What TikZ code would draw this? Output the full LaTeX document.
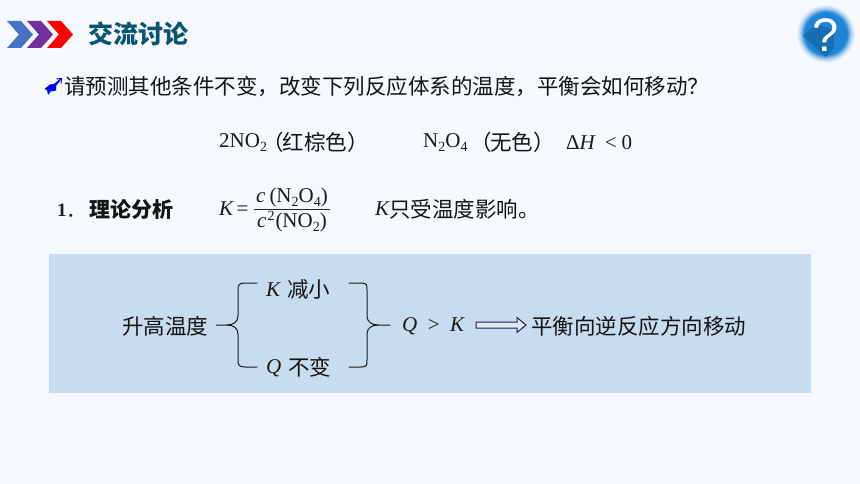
\documentclass[tikz,border=0pt]{standalone}
\usepackage{fontspec}
\setmainfont{Liberation Serif}
\setsansfont{Liberation Sans}
\newfontfamily\cjk{Noto Sans CJK SC}
\newfontfamily\cjkp[RawFeature=+palt]{Noto Sans CJK SC}
\usetikzlibrary{calc}
\definecolor{bgc}{HTML}{F5F9FD}
\definecolor{boxc}{HTML}{C8DCF0}
\definecolor{titlec}{HTML}{0B5470}
\definecolor{iconc}{HTML}{1E84D6}
\definecolor{chevb}{HTML}{4472C4}
\definecolor{chevp}{HTML}{7030A0}
\tikzset{
  body/.style={inner sep=0pt,text=black!92,font=\fontsize{21.5}{25}\selectfont\cjk},
  paren/.style={inner sep=0pt,text=black!92,font=\fontsize{21.5}{25}\selectfont\cjkp},
  latin/.style={inner sep=0pt,text=black!90,font=\fontsize{21}{25}\selectfont},
  brace/.style={draw=black!90,line width=1pt,line cap=round},
}
\newcommand{\sbs}[1]{\raisebox{-4pt}{\fontsize{14}{16}\selectfont #1}}
\begin{document}
\begin{tikzpicture}[x=1pt,y=-1pt]
\useasboundingbox (0,0) rectangle (860,484);
\fill[bgc] (0,0) rectangle (860,484);
\fill[boxc] (49,254) rectangle (811,393);
% chevrons
\fill[chevb] (7,21)--(21,21)--(33,34.5)--(21,48)--(7,48)--(19,34.5)--cycle;
\fill[chevp] (27,21)--(41,21)--(53,34.5)--(41,48)--(27,48)--(39,34.5)--cycle;
\fill[red] (47,21)--(61,21)--(73,34.5)--(61,48)--(47,48)--(59,34.5)--cycle;
\node[anchor=west,inner sep=0pt,text=titlec,font=\fontsize{25}{28}\selectfont\cjk\bfseries] (title) at (88,34) {交流讨论};
% help icon
\foreach \r/\o in {29/0.06,28/0.08,27/0.10,26/0.14,25/0.2,24/0.3,23/0.45,22/0.7,21/1}{
  \fill[iconc,opacity=\o] (826,34) circle (\r);
}
\begin{scope}
\clip (826,34) circle (24);
\fill[iconc!80!black,opacity=0.85] (816,24)--(834,30)--(834,48)--(826,57)--(803,36)--cycle;
\end{scope}
\node[inner sep=0pt,text=white,font=\fontsize{47}{50}\selectfont\sffamily] (qm) at (826,35) {?};
% bullet
\fill[blue] (44.5,89)--(50,84.5)--(54,84)--(59,80)--(60,81)--(56,86)--(56,90.5)--(51.5,91.5)--(53,88.5)--(48,95)--(47,90)--cycle;
\draw[blue,line width=1pt] (54,85)--(61.5,78.5) (56.5,79)--(61.5,78.5)--(61,83.5);
\node[body,anchor=west] (q) at (64,87) {请预测其他条件不变，改变下列反应体系的温度，平衡会如何移动？};
% equation
\node[latin,anchor=west] (no2) at (219,143) {2NO\sbs{2}};
\node[paren,anchor=west] (redp) at (272.5,142) {（};
\node[body,anchor=west] (red) at (282.5,142) {红棕色）};
\node[latin,anchor=west] (n2o4) at (423,143) {N\sbs{2}O\sbs{4}};
\node[paren,anchor=west] (colp) at (480,142) {（};
\node[body,anchor=west] (col) at (490,142) {无色）};
\node[latin,anchor=west] (dh) at (566,143) {Δ\textit{H}\hspace{9pt}<\hspace{5pt}0};
% section
\node[inner sep=0pt,anchor=west,text=black!88,font=\fontsize{19}{22}\selectfont\bfseries] (num1) at (57,210) {1};
\node[inner sep=0pt,anchor=west,text=black!88,font=\fontsize{20}{22}\selectfont\cjk] (sec) at (66,215.5) {．};
\node[inner sep=0pt,anchor=west,text=black!92,font=\fontsize{21}{22}\selectfont\cjk\bfseries] (sect) at (89,210) {理论分析};
\node[latin,anchor=west] (keq) at (219,209) {\textit{K}\hspace{2.5pt}=};
\node[latin] (num) at (292,197) {\textit{c}\hspace{4pt}(N\sbs{2}O\sbs{4})};
\node[latin] (den) at (292,221.5) {\textit{c}\hspace{1pt}\raisebox{7pt}{\fontsize{14}{16}\selectfont 2}\hspace{1pt}(NO\sbs{2})};
\coordinate (fl) at (254,209.5);
\coordinate (fr) at (330,209.5);
\draw[draw=black!85,line width=0.8pt] (fl)--(fr);
\node[latin,anchor=west] (k2) at (375,209) {\textit{K}};
\node[body,anchor=west] (k2t) at (389,209) {只受温度影响。};
% box content
\node[body,anchor=west] (rise) at (122,326) {升高温度};
\node[latin,anchor=west] (ka) at (266,290) {\textit{K}};
\node[body,anchor=west] (kb) at (287,289) {减小};
\node[latin,anchor=west] (qa) at (266,368) {\textit{Q}};
\node[body,anchor=west] (qb) at (288,367) {不变};
\coordinate (lt) at (257,283); \coordinate (lb) at (257,367); \coordinate (ltip) at (216,325);
\coordinate (rt) at (349,283); \coordinate (rb) at (349,367); \coordinate (rtip) at (390,325);
\draw[brace] (lt) -- (245,283) .. controls (239,283) and (238,285) .. (238,290) -- (238,316) .. controls (238,322) and (233,325) .. (227,325) -- (ltip);
\draw[brace] (227,325) .. controls (233,325) and (238,328) .. (238,334) -- (238,360) .. controls (238,365) and (239,367) .. (245,367) -- (lb);
\draw[brace] (rt) -- (361,283) .. controls (367,283) and (367,285) .. (367,290) -- (367,316) .. controls (367,322) and (372,325) .. (378,325) -- (rtip);
\draw[brace] (378,325) .. controls (372,325) and (367,328) .. (367,334) -- (367,360) .. controls (367,365) and (367,367) .. (361,367) -- (rb);
\node[latin,anchor=west] (qk) at (402,326) {\textit{Q}\hspace{10.5pt}>\hspace{10.5pt}\textit{K}};
\coordinate (ae) at (526,325);
\draw[draw={rgb,255:red,30;green,30;blue,80},fill=boxc!60!white,line width=1pt,line join=miter]
  (476,322)--(517,322)--(517,317.5)--(ae)--(517,332.5)--(517,328)--(476,328)--cycle;
\node[body,anchor=west] (res) at (531,326) {平衡向逆反应方向移动};
\end{tikzpicture}
\end{document}
